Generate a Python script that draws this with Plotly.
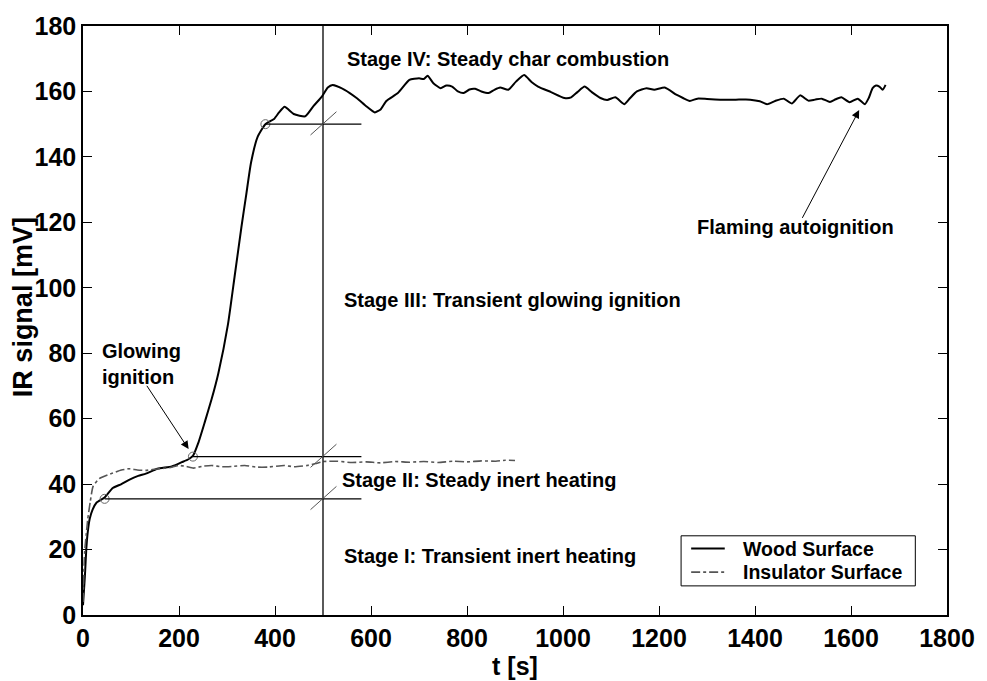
import plotly.graph_objects as go

# Wood surface IR signal
wood_t = [0, 4, 7, 10, 14, 20, 28, 45, 62, 80, 96, 115, 131, 155, 185, 206, 220, 229,
          240, 254, 268, 282, 302, 316, 330, 340, 350, 364, 380, 398, 408, 420, 439, 463,
          480, 498, 510, 520, 545, 570, 590, 608, 620, 632, 656, 680, 700, 710, 718, 730,
          745, 757, 769, 781, 793, 805, 817, 830, 845, 857, 869, 886, 902, 919, 935, 948,
          975, 1003, 1017, 1030, 1045, 1060, 1078, 1092, 1109, 1128, 1140, 1154, 1174,
          1190, 1212, 1236, 1250, 1264, 1280, 1300, 1330, 1360, 1390, 1410, 1425, 1442,
          1460, 1477, 1494, 1511, 1525, 1539, 1556, 1568, 1580, 1597, 1614, 1629, 1637,
          1645, 1652, 1659, 1666, 1672]
wood_v = [3, 12, 20.5, 25.5, 29.4, 32.2, 34.3, 35.9, 38.8, 40.0, 41.3, 42.5, 43.2, 44.7,
          45.4, 46.7, 47.6, 48.6, 52.5, 59.1, 66, 73.9, 88.8, 103.6, 118.5, 128.4, 138.2,
          146.2, 150, 151.6, 153.5, 155.3, 153.1, 152.4, 155.5, 158.5, 161.2, 162.0, 160.5,
          158.0, 155.5, 153.6, 154.5, 157.1, 159.5, 163.5, 164.0, 163.8, 164.8, 162.5,
          161.0, 161.8, 161.5, 160.0, 159.5, 160.6, 160.8, 160.0, 159.5, 160.5, 161.2,
          160.5, 163, 165.0, 162.8, 161.5, 159.8, 158.0, 158.2, 159.8, 161.5, 159.8, 158.0,
          157.4, 158.2, 156.1, 158.0, 160.0, 161.0, 160.5, 161.2, 159.0, 158.0, 157.1,
          157.8, 157.7, 157.5, 157.5, 157.5, 157.0, 156.1, 157.1, 157.8, 156.3, 158.8,
          157.2, 157.5, 157.8, 156.8, 157.6, 158.2, 156.7, 157.8, 156.1, 158, 161.0, 161.8,
          161.5, 160.5, 162.0]

# Insulator surface IR signal
ins_t = [0, 3.5, 7, 10, 15, 21, 34, 62, 80, 96, 113, 131, 158, 180, 199, 215, 230, 250,
         268, 290, 310, 337, 360, 385, 419, 440, 467, 485, 501, 529, 560, 590, 620, 650,
         680, 710, 740, 770, 800, 830, 860, 880, 900]
ins_v = [4, 19.5, 25, 29.4, 34.5, 39.3, 41.7, 43.4, 44.3, 44.7, 44.3, 44.2, 44.7, 45.0,
         45.7, 45.4, 44.9, 45.5, 45.7, 45.3, 45.4, 45.7, 45.2, 45.2, 45.7, 45.3, 45.7,
         46.3, 46.9, 47.0, 46.6, 46.8, 46.5, 46.9, 46.7, 46.9, 46.6, 47.0, 46.8, 47.1,
         47.0, 47.3, 47.2]

# Stage transition points (t, signal) and the stage boundary time
stage_t = [45, 229, 380]
stage_v = [35.5, 48.4, 150]
boundary_t = 500
marker_end_t = 580

x_ticks = [0, 200, 400, 600, 800, 1000, 1200, 1400, 1600, 1800]
y_ticks = [0, 20, 40, 60, 80, 100, 120, 140, 160, 180]

series_names = ["Wood Surface", "Insulator Surface"]

FONT = "Liberation Sans, Arial, sans-serif"
WOOD_LINE = dict(color="black", width=2)
INS_LINE = dict(color="#555555", width=1.6, dash="dashdot")

fig = go.Figure()
fig.add_trace(go.Scatter(x=wood_t, y=wood_v, mode="lines", name=series_names[0],
                         line=dict(shape="spline", smoothing=0.5, **WOOD_LINE),
                         showlegend=False))
fig.add_trace(go.Scatter(x=ins_t, y=ins_v, mode="lines", name=series_names[1],
                         line=dict(shape="spline", smoothing=0.5, **INS_LINE),
                         showlegend=False))
fig.add_trace(go.Scatter(x=stage_t, y=stage_v, mode="markers", showlegend=False,
                         marker=dict(symbol="circle-open", size=9,
                                     color="#666666", line=dict(width=1))))

shapes = [dict(type="line", xref="x", yref="y", x0=boundary_t, x1=boundary_t,
               y0=0, y1=180, line=dict(color="black", width=1.3))]
for t0, v0 in zip(stage_t, stage_v):
    shapes.append(dict(type="line", xref="x", yref="y", x0=t0, x1=marker_end_t,
                       y0=v0, y1=v0, line=dict(color="black", width=1.2)))
    shapes.append(dict(type="line", xref="x", yref="y", x0=boundary_t - 26,
                       x1=boundary_t + 28, y0=v0 - 3.3, y1=v0 + 3.8,
                       line=dict(color="#555555", width=1)))

# Boxed key in the lower right corner
key_x0, key_x1, key_y0, key_y1 = 1246, 1734, 8.9, 24.2
key_rows = [20.3, 13.1]
shapes.append(dict(type="rect", xref="x", yref="y", x0=key_x0, x1=key_x1,
                   y0=key_y0, y1=key_y1, line=dict(color="black", width=1),
                   fillcolor="white", layer="above"))
for row_v, style in zip(key_rows, [WOOD_LINE, INS_LINE]):
    shapes.append(dict(type="line", xref="x", yref="y", x0=1267, x1=1337,
                       y0=row_v, y1=row_v, line=style, layer="above"))

tfont = dict(family=FONT, size=20, color="black", weight="bold")
annotations = [
    dict(x=546, y=170, text="Stage IV: Steady char combustion"),
    dict(x=539, y=96.3, text="Stage III: Transient glowing ignition"),
    dict(x=535, y=41.4, text="Stage II: Steady inert heating"),
    dict(x=539, y=17.9, text="Stage I: Transient inert heating"),
    dict(x=36, y=76.7, text="Glowing<br>ignition"),
    dict(x=1274, y=118.6, text="Flaming autoignition"),
]
for a in annotations:
    a.update(font=tfont)
for row_v, name in zip(key_rows, series_names):
    annotations.append(dict(x=1370, y=row_v, text=name,
                            font=dict(family=FONT, size=19.5, color="black",
                                      weight="bold")))
for a in annotations:
    a.update(xref="x", yref="y", xanchor="left", yanchor="middle", align="left",
             showarrow=False)

arrows = [
    dict(x=220, y=50.7, ax=131, ay=70.5),
    dict(x=1617, y=154.3, ax=1497, ay=120.9),
]
for a in arrows:
    a.update(xref="x", yref="y", axref="x", ayref="y", text="", showarrow=True,
             arrowhead=2, arrowsize=1.6, arrowwidth=1, arrowcolor="black")
annotations += arrows

# Vertical axis title
annotations.append(dict(xref="paper", yref="y", x=-0.0686, y=94, text="IR signal [mV]",
                        textangle=-90, showarrow=False, xanchor="center",
                        yanchor="middle",
                        font=dict(family=FONT, size=27, color="black", weight="bold")))

axis_common = dict(showgrid=False, zeroline=False, showline=True, linecolor="black",
                   linewidth=1.5, mirror="ticks", ticks="inside", ticklen=9,
                   tickwidth=1, tickcolor="black",
                   tickfont=dict(family=FONT, size=25, color="black", weight="bold"))

fig.update_layout(
    width=987, height=681,
    margin=dict(l=83, r=30, t=16, b=59),
    paper_bgcolor="white", plot_bgcolor="white",
    xaxis=dict(range=[0, 1800], tickvals=x_ticks,
               title=dict(text="t [s]", standoff=0,
                          font=dict(family=FONT, size=25, color="black", weight="bold")),
               **axis_common),
    yaxis=dict(range=[0, 180], tickvals=y_ticks, **axis_common),
    shapes=shapes,
    annotations=annotations,
    showlegend=False,
)

fig.write_html("out.html")
